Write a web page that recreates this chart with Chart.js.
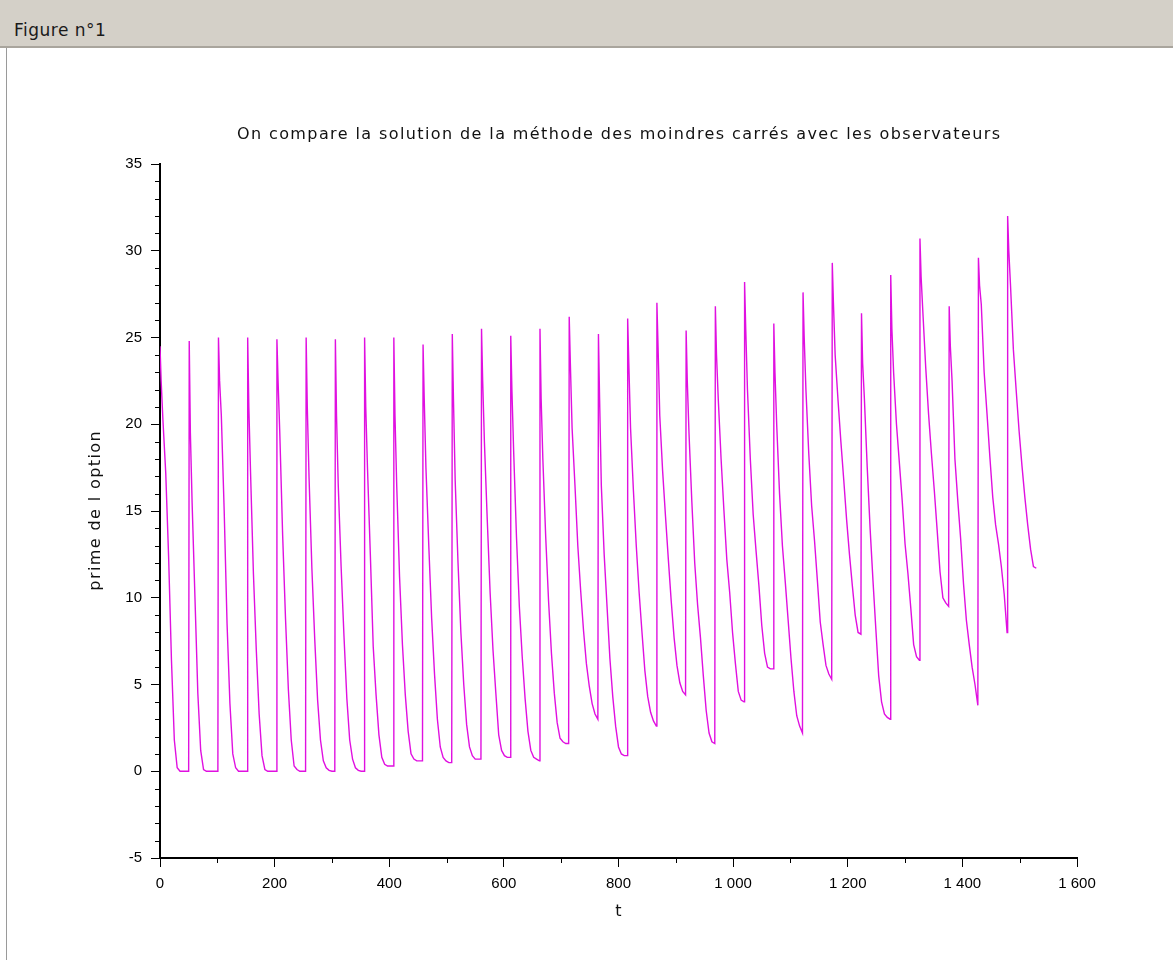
<!DOCTYPE html>
<html>
<head>
<meta charset="utf-8">
<script src="https://cdn.jsdelivr.net/npm/chart.js@4.4.0/dist/chart.umd.min.js"></script>
<style>
html,body{margin:0;padding:0;background:#fff;width:1173px;height:960px;overflow:hidden;}
#bar{position:absolute;left:0;top:0;width:1173px;height:48px;background:#d4d0c8;border-bottom:2px solid #a9a59d;box-sizing:border-box;}
#bar span{position:absolute;left:14px;top:20px;font:17px "DejaVu Sans",sans-serif;color:#1a1a1a;letter-spacing:0.5px;line-height:20px;}
#edge{position:absolute;left:6px;top:48px;width:1px;height:912px;background:#9a9a9a;}
#c{position:absolute;left:0;top:48px;}
</style>
</head>
<body>
<div id="bar"><span>Figure n°1</span></div>
<div id="edge"></div>
<canvas id="c" width="1173" height="912"></canvas>
<script>
// ---- data ----
const chartTitle = "On compare la solution de la méthode des moindres carrés avec les observateurs";
const xTitle = "t";
const yTitle = "prime de l option";

// time of each spike (start of each period)
const peakTimes = [0,51,102,153,204,255,306,357,408,459,510,561,612,663,714,765,816,867,918,969,1020,1071,1122,1173,1224,1275,1326,1377,1428,1479];
// offsets (in t) after each spike where the value was read
const offsets = [0,2,5,10,15,20,25,30,35,40,45,50];
// values read at those offsets, one row per period
const cycleValues = [
  [24.5,22.5,20.3,17.2,12.4,6.4,1.8,0.2,0,0,0,0],
  [24.8,19.5,15.5,10.0,4.5,1.2,0.1,0,0,0,0,0],
  [25.0,22.5,20.5,15.0,8.5,3.9,1.0,0.2,0,0,0,0],
  [25.0,21.0,17.2,11.4,7.0,3.3,0.9,0.1,0,0,0,0],
  [24.9,22.5,19.5,13.6,8.8,4.7,1.8,0.3,0.1,0,0,0],
  [25.0,21.0,17.0,11.7,7.6,4.1,1.8,0.6,0.2,0.05,0,0],
  [24.9,20.5,16.5,11.8,7.8,4.2,1.8,0.7,0.2,0.05,0,0],
  [25.0,21.0,17.5,12.5,7.2,4.4,2.1,0.8,0.4,0.3,0.3,0.3],
  [25.0,20.5,16.5,11.2,7.3,4.4,2.3,1.0,0.7,0.6,0.6,0.6],
  [24.6,21.5,17.5,13.0,8.8,5.6,3.0,1.4,0.8,0.6,0.5,0.5],
  [25.2,21.5,16.8,12.0,8.0,5.0,2.7,1.4,0.9,0.7,0.7,0.7],
  [25.5,22.5,19.0,14.5,10.3,7.0,4.5,2.1,1.2,0.9,0.8,0.8],
  [25.1,22.0,18.5,13.5,9.5,6.6,4.2,2.3,1.2,0.8,0.7,0.6],
  [25.5,21.5,18.0,13.5,9.8,6.8,4.5,2.8,1.9,1.7,1.6,1.6],
  [26.2,23.5,19.8,16.5,13.0,10.4,8.1,6.2,4.9,3.9,3.3,3.0],
  [25.2,21.5,16.5,12.5,9.5,6.5,4.3,2.6,1.4,1.0,0.9,0.9],
  [26.1,23.5,19.8,16.2,13.0,10.3,8.0,5.8,4.3,3.4,2.9,2.6],
  [27.0,24.5,20.5,17.3,14.7,12.2,9.8,7.7,6.1,5.1,4.6,4.4],
  [25.4,22.5,19.5,15.5,12.0,9.6,7.7,5.5,3.5,2.2,1.7,1.6],
  [26.8,24.0,21.5,18.0,15.0,12.2,10.3,8.0,6.2,4.6,4.1,4.0],
  [28.2,25.5,22.0,18.0,14.8,12.7,10.7,8.4,6.8,6.0,5.9,5.9],
  [25.8,23.0,20.0,16.0,13.0,10.9,8.7,6.5,4.6,3.2,2.6,2.2],
  [27.6,25.0,22.0,18.3,15.3,13.3,11.0,8.6,7.3,6.1,5.6,5.3],
  [29.3,27.0,24.0,21.4,19.0,16.8,14.5,12.5,10.7,9.0,8.0,7.9],
  [26.4,23.5,21.5,17.5,14.0,11.0,8.2,5.5,4.0,3.3,3.1,3.0],
  [28.6,25.5,23.0,20.0,17.8,15.6,13.1,11.4,9.4,7.3,6.6,6.4],
  [30.7,28.5,26.5,23.3,20.6,18.3,16.2,13.9,11.5,10.0,9.7,9.5],
  [26.8,24.5,22.5,18.0,15.6,13.4,10.8,8.7,7.3,6.0,5.0,3.8],
  [29.6,28.0,26.9,23.0,20.6,18.1,15.8,14.2,13.1,11.8,10.2,8.0],
  [32.0,30.0,28.0,24.3,21.9,19.6,17.6,15.8,14.2,12.8,11.8,11.7]
];

// axis ticks
const xMajorTicks = [0,200,400,600,800,1000,1200,1400,1600];
const xMinorTicks = [100,300,500,700,900,1100,1300,1500];
const yMajorTicks = [-5,0,5,10,15,20,25,30,35];
const yMinorTicks = [-4,-3,-2,-1,1,2,3,4,6,7,8,9,11,12,13,14,16,17,18,19,21,22,23,24,26,27,28,29,31,32,33,34];

// ---- build the series ----
const points = [];
peakTimes.forEach((t0, k) => {
  offsets.forEach((o, j) => points.push({x: t0 + o, y: cycleValues[k][j]}));
});

function fmt(v) {
  return String(v).replace(/\B(?=(\d{3})+(?!\d))/g, ' ');
}

const tickFont = {family: '"Liberation Sans", Arial, sans-serif', size: 15};
const TEXT_FONT = '16px "DejaVu Sans", sans-serif';
const SPACING = 1.4;

const minorTickPlugin = {
  id: 'minorTicks',
  afterDraw(chart) {
    const {ctx, chartArea} = chart;
    const x = chart.scales.x, y = chart.scales.y;
    ctx.save();
    ctx.strokeStyle = '#000';
    ctx.lineWidth = 1;
    ctx.beginPath();
    xMinorTicks.forEach(v => {
      const px = Math.round(x.getPixelForValue(v)) + 0.5;
      ctx.moveTo(px, chartArea.bottom);
      ctx.lineTo(px, chartArea.bottom + 5);
    });
    yMinorTicks.forEach(v => {
      const py = Math.round(y.getPixelForValue(v)) + 0.5;
      ctx.moveTo(chartArea.left, py);
      ctx.lineTo(chartArea.left - 5, py);
    });
    ctx.stroke();
    ctx.restore();
  }
};

function spacedText(ctx, text, x, y, rot) {
  ctx.save();
  ctx.font = TEXT_FONT;
  ctx.fillStyle = '#111';
  ctx.textAlign = 'center';
  ctx.textBaseline = 'middle';
  ctx.letterSpacing = SPACING + 'px';
  ctx.translate(x, y);
  if (rot) ctx.rotate(rot);
  ctx.fillText(text, SPACING / 2, 0);
  ctx.restore();
}

const titlesPlugin = {
  id: 'titles',
  afterDraw(chart) {
    const {ctx, chartArea} = chart;
    const cx = (chartArea.left + chartArea.right) / 2;
    const cy = (chartArea.top + chartArea.bottom) / 2;
    spacedText(ctx, chartTitle, cx, 87, 0);
    spacedText(ctx, xTitle, cx, 864, 0);
    spacedText(ctx, yTitle, 96, cy, -Math.PI / 2);
  }
};

new Chart(document.getElementById('c'), {
  type: 'line',
  data: {
    datasets: [{
      data: points,
      borderColor: '#e010e0',
      borderWidth: 1.4,
      pointRadius: 0,
      fill: false,
      tension: 0
    }]
  },
  options: {
    responsive: false,
    animation: false,
    events: [],
    layout: {padding: {left: 0, right: 96, top: 116, bottom: 0}},
    plugins: {
      legend: {display: false},
      tooltip: {enabled: false},
      title: {display: false}
    },
    scales: {
      x: {
        type: 'linear',
        min: 0,
        max: 1600,
        afterBuildTicks: s => { s.ticks = xMajorTicks.map(v => ({value: v})); },
        afterFit: s => { s.height = 102; },
        ticks: {
          autoSkip: false,
          maxRotation: 0,
          color: '#000',
          font: tickFont,
          padding: 8,
          callback: v => fmt(v)
        },
        grid: {display: true, drawOnChartArea: false, drawTicks: true, tickLength: 9, color: '#000', lineWidth: 1},
        border: {display: true, color: '#000', width: 2}
      },
      y: {
        type: 'linear',
        min: -5,
        max: 35,
        afterBuildTicks: s => { s.ticks = yMajorTicks.map(v => ({value: v})); },
        afterFit: s => { s.width = 160; },
        ticks: {
          autoSkip: false,
          color: '#000',
          font: tickFont,
          padding: 9,
          callback: v => fmt(v)
        },
        grid: {display: true, drawOnChartArea: false, drawTicks: true, tickLength: 9, color: '#000', lineWidth: 1},
        border: {display: true, color: '#000', width: 2}
      }
    }
  },
  plugins: [minorTickPlugin, titlesPlugin]
});
</script>
</body>
</html>
